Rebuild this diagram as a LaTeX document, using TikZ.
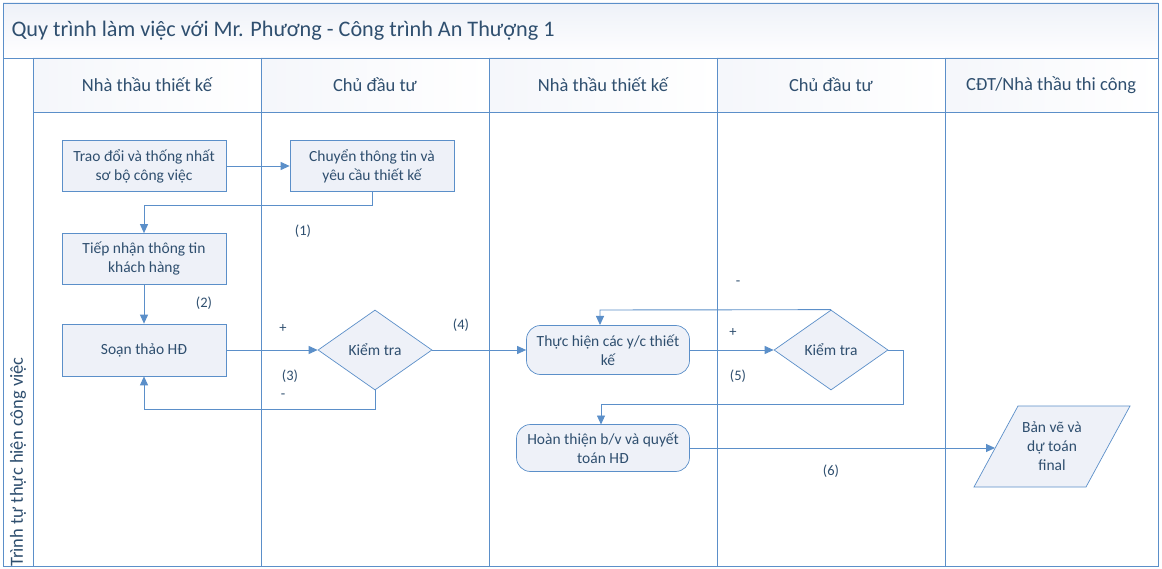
\documentclass[tikz,border=0pt]{standalone}
\usepackage{fontspec}
\setmainfont{Carlito}
\usetikzlibrary{shapes.geometric,arrows.meta}
\definecolor{ln}{HTML}{5B8FC9}
\definecolor{tx}{HTML}{2F4F6F}
\definecolor{fl}{HTML}{EEF1F8}
\tikzset{
 x=1pt,y=-1pt,
 frame/.style={draw=ln,line width=0.8pt},
 box/.style={draw=ln,fill=fl,line width=0.7pt,text=tx,font=\fontsize{15.5}{19}\selectfont,align=center,inner sep=0pt},
 rbox/.style={box,rounded corners=14pt},
 dia/.style={box,diamond,aspect=1.43,minimum width=114pt,minimum height=80pt},
 arr/.style={draw=ln,line width=0.9pt,-{Triangle[length=9pt,width=8pt]}},
 lbl/.style={text=tx,font=\fontsize{14.5}{17}\selectfont},
 hdr/.style={text=tx,font=\fontsize{18.5}{22}\selectfont},
}
\begin{document}
\begin{tikzpicture}
\useasboundingbox (0,0) rectangle (1162,569);
\fill[white] (0,0) rectangle (1162,569);
\fill[top color=fl,bottom color=white] (3,3) rectangle (1158,58);
\foreach \a/\b in {33/261,261/489,489/717,717/945,945/1158}
  \fill[left color=fl!60,right color=white] (\a,58) rectangle (\b,112);
\draw[frame] (3,3) rectangle (1158,566);
\draw[frame] (3,58) -- (1158,58);
\draw[frame] (33,112) -- (1158,112);
\foreach \x in {33,261,489,717,945} \draw[frame] (\x,58) -- (\x,566);
\node[anchor=west,text=tx,font=\fontsize{22.2}{26}\selectfont] (title) at (8,31) {Quy trình làm việc với Mr. Phương - Công trình An Thượng 1};
\node[hdr] (h1) at (147,85) {Nhà thầu thiết kế};
\node[hdr] (h2) at (375,85) {Chủ đầu tư};
\node[hdr] (h3) at (603,85) {Nhà thầu thiết kế};
\node[hdr] (h4) at (831,85) {Chủ đầu tư};
\node[hdr] (h5) at (1051,85) {CĐT/Nhà thầu thi công};
\node[hdr,rotate=90] (side) at (18,462) {Trình tự thực hiện công việc};

\node[box,minimum width=164pt,minimum height=51pt] (A) at (144,166) {Trao đổi và thống nhất\\sơ bộ công việc};
\node[box,minimum width=164pt,minimum height=51pt] (B) at (372,166) {Chuyển thông tin và\\yêu cầu thiết kế};
\node[box,minimum width=164pt,minimum height=51pt] (C) at (144,259) {Tiếp nhận thông tin\\khách hàng};
\node[box,minimum width=164pt,minimum height=52pt] (D) at (144,350) {Soạn thảo HĐ};
\node[dia] (E) at (375,350) {Kiểm tra};
\node[rbox,minimum width=163pt,minimum height=49pt] (F) at (608,350) {Thực hiện các y/c thiết\\kế};
\node[dia] (G) at (831,350) {Kiểm tra};
\node[rbox,minimum width=173pt,minimum height=47pt] (H) at (603,448) {Hoàn thiện b/v và quyết\\toán HĐ};
\draw[draw=ln,fill=fl,line width=0.7pt] (974,487) -- (1018,406) -- (1130,406) -- (1086,487) -- cycle;
\node[box,draw=none,fill=none] (I) at (1052,446) {Bản vẽ và\\dự toán\\final};
\coordinate (Iin) at (995,448);

\draw[arr] (A) -- (B);
\draw[arr] (B.south) -- (372,205) -- (144,205) -- (C.north);
\draw[arr] (C) -- (D);
\draw[arr] (D) -- (E);
\draw[arr] (E.south) -- (375,409) -- (144,409) -- (D.south);
\draw[arr] (E) -- (F);
\draw[arr] (F) -- (G);
\draw[arr] (G.north) -- (600,310) -- (600,325);
\draw[arr] (G.east) -- (903,350) -- (903,404) -- (601,404) -- (601,424.5);
\draw[arr] (H.east) -- (Iin);

\node[lbl] (l1) at (303,231) {(1)};
\node[lbl] (l2) at (204,303) {(2)};
\node[lbl] (l3) at (290,376) {(3)};
\node[lbl] (l4) at (461,325) {(4)};
\node[lbl] (l5) at (738,376) {(5)};
\node[lbl] (l6) at (831,471) {(6)};
\node[lbl] (p1) at (283,329) {+};
\node[lbl] (m1) at (283,396) {-};
\node[lbl] (p2) at (733,333) {+};
\node[lbl] (m2) at (738,283) {-};
\end{tikzpicture}
\end{document}
